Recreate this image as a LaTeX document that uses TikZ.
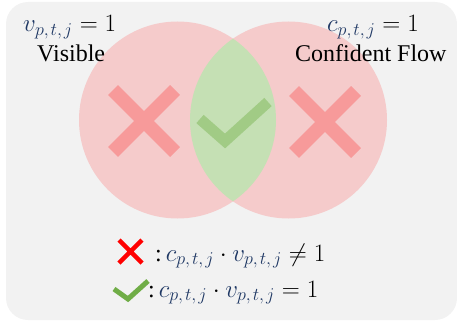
\documentclass[tikz,border=0pt]{standalone}
\usepackage{fix-cm}
\usepackage{fontspec}
\setmainfont{Liberation Serif}
\DeclareMathSizes{24}{25}{18}{14}
\definecolor{bgc}{HTML}{F2F2F2}
\definecolor{pinkc}{HTML}{F5CBCB}
\definecolor{lensc}{HTML}{C5E0B4}
\definecolor{crossc}{HTML}{F79A9A}
\definecolor{checkc}{HTML}{A1CB85}
\definecolor{navy}{HTML}{1F3864}
\definecolor{redx}{HTML}{FF0000}
\definecolor{greenchk}{HTML}{70AD47}
\tikzset{
  lbl/.style={inner sep=0pt, anchor=base west, font=\fontsize{24}{28}\selectfont},
  bigx/.style={crossc, line width=14pt, line cap=butt},
  bigchk/.style={checkc, line width=11pt, line cap=butt, line join=miter},
}
\newcommand{\nv}[1]{\textcolor{navy}{#1}}
\newcommand{\ptj}{p,\mkern2mu t,\mkern2mu j}
\begin{document}
\begin{tikzpicture}[x=1pt,y=-1pt]
\useasboundingbox (0,0) rectangle (457,321);
\fill[bgc, rounded corners=22pt] (6,2) rectangle (457,320);
% circles
\coordinate (cl) at (177.5,120);
\coordinate (cr) at (288.5,120);
\fill[pinkc] (cl) circle[radius=98.5pt];
\fill[pinkc] (cr) circle[radius=98.5pt];
\begin{scope}
  \clip (cl) circle[radius=98.5pt];
  \fill[lensc] (cr) circle[radius=98.5pt];
\end{scope}
% big crosses
\draw[bigx] (113,90) -- (175,152) (113,152) -- (175,90);
\draw[bigx] (294,91) -- (356,153) (294,153) -- (356,91);
% big check
\draw[bigchk] (200,119) -- (225,141) -- (268,102);
% labels
\node[lbl] (vlab) at (23,32) {$\nv{v_{\ptj}} = 1$};
\node[lbl] (vis) at (37,62) {Visible};
\node[lbl] (clab) at (327,32) {$\nv{c_{\ptj}} = 1$};
\node[lbl] (conf) at (295,62) {Confident Flow};
% legend
\draw[redx, line width=4.5pt] (119,240) -- (142,263) (119,263) -- (142,240);
\node[lbl] (leg1) at (155,261) {:\,$\nv{c_{\ptj}}\cdot\nv{v_{\ptj}} \neq 1$};
\draw[greenchk, line width=5pt, line join=miter] (114,289) -- (128,299) -- (148,281);
\node[lbl] (leg2) at (148,297) {:\,$\nv{c_{\ptj}}\cdot\nv{v_{\ptj}} = 1$};
\end{tikzpicture}
\end{document}
